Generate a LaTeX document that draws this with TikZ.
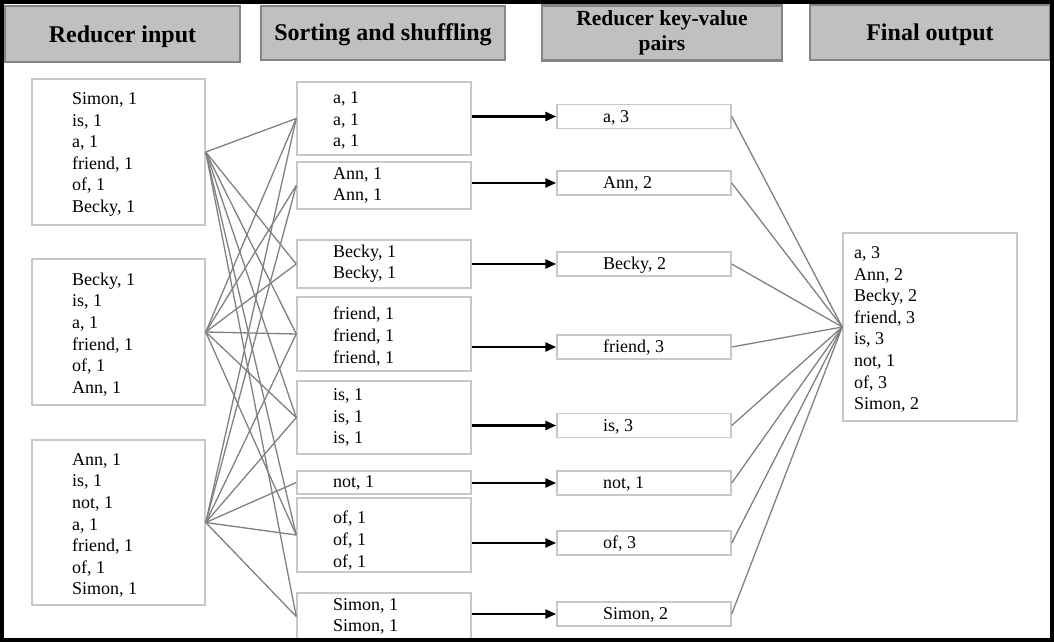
\documentclass[tikz,border=0pt]{standalone}
\usepackage{fontspec}
\setmainfont{Liberation Serif}
\usetikzlibrary{arrows.meta}
\definecolor{hdrfill}{HTML}{C0C0C0}
\definecolor{hdrline}{HTML}{858585}
\definecolor{boxline}{HTML}{C8C8C8}
\definecolor{wirecol}{HTML}{808080}
\tikzset{
  hdr/.style={draw=hdrline, fill=hdrfill, line width=2.5pt, inner sep=0pt, align=center,
              text height=16pt, text depth=0pt,
              font=\fontsize{24}{28}\selectfont\bfseries},
  hdrsmall/.style={draw=hdrline, fill=hdrfill, line width=2.5pt, inner sep=0pt, align=center,
              font=\fontsize{21.5}{25}\selectfont\bfseries},
  box/.style={draw=boxline, line width=1.5pt, fill=white, inner sep=0pt},
  lbox/.style={box, minimum width=173pt},
  mbox/.style={box, minimum width=174pt},
  rbox/.style={box, minimum width=174pt, minimum height=24pt},
  txt/.style={anchor=west, align=left, inner sep=0pt, yshift=-1.5pt,
              font=\fontsize{18}{21.6}\selectfont},
  wire/.style={draw=wirecol, line width=1.3pt},
  arr/.style={draw=black, line width=2.7pt, -{Triangle[length=11pt,width=9pt]}},
}
\begin{document}
\begin{tikzpicture}[x=1pt,y=-1pt]
\useasboundingbox (0,0) rectangle (1054,642);

% headers
\node[hdr, minimum width=235pt, minimum height=56pt] (h1) at (122.5,34) {Reducer input};
\node[hdr, minimum width=244pt, minimum height=54pt] (h2) at (383,33) {Sorting and shuffling};
\node[hdrsmall, minimum width=240pt, minimum height=55pt] (h3) at (662,33) {Reducer key-value\\pairs};
\node[hdr, minimum width=240pt, minimum height=55pt] (h4) at (930,32.5) {Final output};

% reducer input boxes
\node[lbox, minimum height=146pt] (l1) at (118.5,152) {};
\node[lbox, minimum height=146pt] (l2) at (118.5,332) {};
\node[lbox, minimum height=165pt] (l3) at (118.5,522.5) {};
\node[txt] (l1t) at (72,153) {Simon, 1\\is, 1\\a, 1\\friend, 1\\of, 1\\Becky, 1};
\node[txt] (l2t) at (72,333) {Becky, 1\\is, 1\\a, 1\\friend, 1\\of, 1\\Ann, 1};
\node[txt] (l3t) at (72,524) {Ann, 1\\is, 1\\not, 1\\a, 1\\friend, 1\\of, 1\\Simon, 1};

% sorting and shuffling boxes
\node[mbox, minimum height=73pt] (m1) at (384,118.5) {};
\node[mbox, minimum height=47pt] (m2) at (384,185.5) {};
\node[mbox, minimum height=48pt] (m3) at (384,264) {};
\node[mbox, minimum height=74pt] (m4) at (384,334) {};
\node[mbox, minimum height=73pt] (m5) at (384,417.5) {};
\node[mbox, minimum height=23pt] (m6) at (384,482.5) {};
\node[mbox, minimum height=74pt] (m7) at (384,535) {};
\node[mbox, minimum height=47pt] (m8) at (384,616.5) {};
\node[txt] (m1t) at (333,119) {a, 1\\a, 1\\a, 1};
\node[txt] (m2t) at (333,184) {Ann, 1\\Ann, 1};
\node[txt] (m3t) at (333,262) {Becky, 1\\Becky, 1};
\node[txt] (m4t) at (333,335) {friend, 1\\friend, 1\\friend, 1};
\node[txt] (m5t) at (333,416) {is, 1\\is, 1\\is, 1};
\node[txt] (m6t) at (333,481) {not, 1};
\node[txt] (m7t) at (333,539) {of, 1\\of, 1\\of, 1};
\node[txt] (m8t) at (333,615) {Simon, 1\\Simon, 1};

% reducer key-value boxes
\node[rbox] (r1) at (644,116.5) {};
\node[rbox] (r2) at (644,183) {};
\node[rbox] (r3) at (644,264) {};
\node[rbox] (r4) at (644,347) {};
\node[rbox] (r5) at (644,425.5) {};
\node[rbox] (r6) at (644,483) {};
\node[rbox] (r7) at (644,543) {};
\node[rbox] (r8) at (644,614) {};
\node[txt] (r1t) at (603,116) {a, 3};
\node[txt] (r2t) at (603,182.5) {Ann, 2};
\node[txt] (r3t) at (603,263.5) {Becky, 2};
\node[txt] (r4t) at (603,346.5) {friend, 3};
\node[txt] (r5t) at (603,425) {is, 3};
\node[txt] (r6t) at (603,482.5) {not, 1};
\node[txt] (r7t) at (603,542.5) {of, 3};
\node[txt] (r8t) at (603,613.5) {Simon, 2};

% final output
\node[box, minimum width=174pt, minimum height=188pt] (f) at (930,327) {};
\node[txt] (ft) at (854,328) {a, 3\\Ann, 2\\Becky, 2\\friend, 3\\is, 3\\not, 1\\of, 3\\Simon, 2};

% shuffle wires
\foreach \m in {m1,m3,m4,m5,m7,m8} \draw[wire] (l1.east) -- (\m.west);
\foreach \m in {m1,m2,m3,m4,m5,m7} \draw[wire] (l2.east) -- (\m.west);
\foreach \m in {m1,m2,m4,m5,m6,m7,m8} \draw[wire] (l3.east) -- (\m.west);

% reduce arrows
\foreach \i in {1,...,8} \draw[arr] (m\i.east |- r\i.west) -- (r\i.west);

% output wires
\foreach \i in {1,...,8} \draw[wire] (r\i.east) -- (f.west);

% outer frame
\draw[line width=4pt] (2,2) rectangle (1052,640);
\end{tikzpicture}
\end{document}
